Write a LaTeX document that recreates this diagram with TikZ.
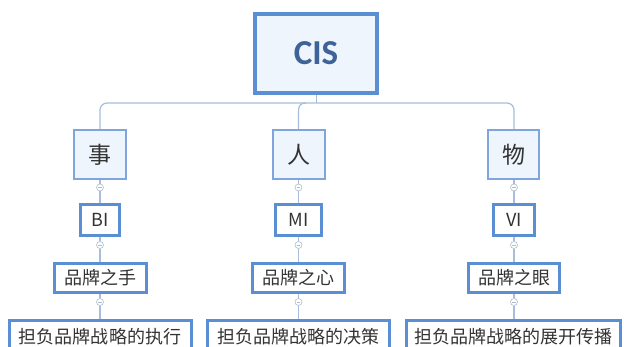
\documentclass[tikz,border=0pt]{standalone}
\usepackage{fontspec}
\setmainfont{Noto Sans CJK SC}
\newfontfamily\cisfont{Carlito}
\definecolor{boxblue}{HTML}{5B8FD4}
\definecolor{lightbox}{HTML}{7EA6DC}
\definecolor{boxfill}{HTML}{EEF5FC}
\definecolor{linecol}{HTML}{A6BDDB}
\definecolor{txt}{HTML}{333333}
\definecolor{cistxt}{HTML}{3D6399}
\definecolor{circcol}{HTML}{B0BCCB}
\begin{document}
\begin{tikzpicture}[x=1pt,y=-1pt,
  rootbox/.style={draw=boxblue,line width=4pt,fill=boxfill,minimum width=122pt,minimum height=79pt,inner sep=0pt,text=cistxt,font=\cisfont\bfseries\fontsize{35}{37}\selectfont},
  topbox/.style={draw=lightbox,line width=2pt,fill=boxfill,minimum height=49pt,inner sep=0pt,text=txt,font=\fontsize{23}{25}\selectfont},
  subbox/.style={draw=boxblue,line width=3pt,fill=white,inner sep=0pt,text=txt,font=\fontsize{18}{20}\selectfont},
  conn/.style={draw=linecol,line width=1.2pt},
  collapse/.style={circle,draw=circcol,line width=0.6pt,fill=white,minimum size=7pt,inner sep=0pt,
    path picture={\draw[circcol,line width=0.6pt] ([xshift=-1.6pt]path picture bounding box.center) -- ([xshift=1.6pt]path picture bounding box.center);}}
]
\useasboundingbox[fill=white] (0,0) rectangle (624,347);
% nodes
\node[rootbox] (cis) at (316,53.5) {CIS};
\node[topbox,minimum width=52pt] (shi) at (100,154.5) {事};
\node[topbox,minimum width=52pt] (ren) at (298.5,154.5) {人};
\node[topbox,minimum width=51pt] (wu) at (513.5,154.5) {物};
\node[subbox,minimum width=39pt,minimum height=31.5pt] (bi) at (100,220) {BI};
\node[subbox,minimum width=46pt,minimum height=31.5pt] (mi) at (298.5,220) {MI};
\node[subbox,minimum width=41pt,minimum height=31.5pt] (vi) at (514,220) {VI};
\node[subbox,minimum width=92pt,minimum height=29pt] (hand) at (100,278) {品牌之手};
\node[subbox,minimum width=92pt,minimum height=29pt] (heart) at (298.5,278) {品牌之心};
\node[subbox,minimum width=91pt,minimum height=29pt] (eye) at (514,278) {品牌之眼};
\node[subbox,minimum width=182pt,minimum height=33pt] (exe) at (100,337) {担负品牌战略的执行};
\node[subbox,minimum width=182pt,minimum height=33pt] (dec) at (298.5,337) {担负品牌战略的决策};
\node[subbox,minimum width=214pt,minimum height=33pt] (spr) at (513.5,337) {担负品牌战略的展开传播};
% collapse markers
\node[collapse] (c1) at (100,187.5) {};
\node[collapse] (c2) at (298.5,187.5) {};
\node[collapse] (c3) at (514,187.5) {};
\node[collapse] (c4) at (100,245) {};
\node[collapse] (c5) at (298.5,245) {};
\node[collapse] (c6) at (514,245) {};
\node[collapse] (c7) at (100,302) {};
\node[collapse] (c8) at (298.5,302) {};
\node[collapse] (c9) at (514,302) {};
\coordinate (hub) at (316.5,103);
\coordinate (renjoin) at (306,103);
\coordinate (renbend) at (298.5,111);
% connectors
\draw[conn] (cis.south -| hub) -- (hub);
\draw[conn,rounded corners=7pt] (shi.north) -- (100,103) -- (514,103) -- (wu.north -| 514,0);
\draw[conn] (ren.north) -- (renbend) .. controls (298.5,105) and (301,103) .. (renjoin);
\draw[conn] (shi) -- (c1) -- (bi);
\draw[conn] (ren) -- (c2) -- (mi);
\draw[conn] (wu.south -| c3) -- (c3) -- (vi);
\draw[conn] (bi) -- (c4) -- (hand);
\draw[conn] (mi) -- (c5) -- (heart);
\draw[conn] (vi) -- (c6) -- (eye);
\draw[conn] (hand) -- (c7) -- (exe);
\draw[conn] (heart) -- (c8) -- (dec);
\draw[conn] (eye) -- (c9) -- (spr.north -| c9);
\end{tikzpicture}
\end{document}
